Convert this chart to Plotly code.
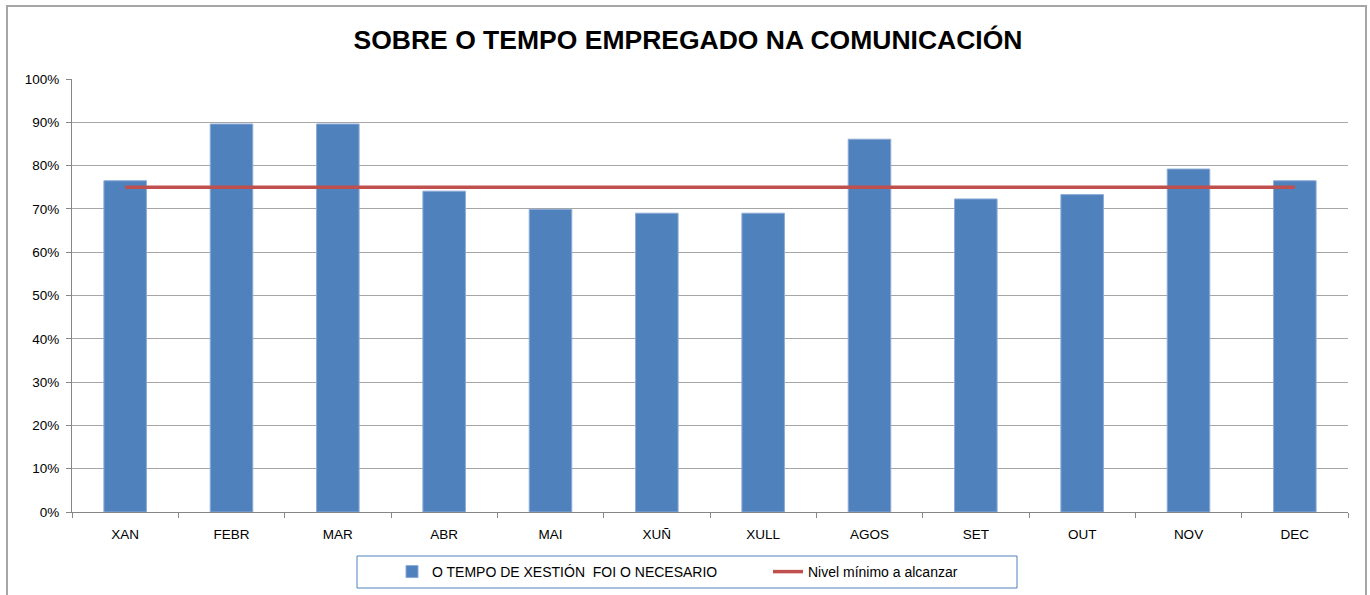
import plotly.graph_objects as go

months = ["XAN", "FEBR", "MAR", "ABR", "MAI", "XUÑ", "XULL", "AGOS", "SET", "OUT", "NOV", "DEC"]
tempo = [0.765, 0.896, 0.896, 0.741, 0.699, 0.690, 0.690, 0.861, 0.723, 0.733, 0.792, 0.765]
nivel = [0.75] * 12
y_ticks = [0, 0.1, 0.2, 0.3, 0.4, 0.5, 0.6, 0.7, 0.8, 0.9, 1.0]

W, H = 1370, 595
L, R, T, B = 72, 22, 79, 83
pw, ph = W - L - R, H - T - B


def px(x):
    return (x - L) / pw


def py(y):
    return (H - B - y) / ph


fig = go.Figure()
fig.add_trace(go.Bar(
    x=months, y=tempo, name="O TEMPO DE XESTIÓN  FOI O NECESARIO",
    marker=dict(color="#4F81BD", line=dict(color="#8DAAD6", width=1)),
    width=0.4,
))
fig.add_trace(go.Scatter(
    x=months, y=nivel, name="Nivel mínimo a alcanzar", mode="lines",
    line=dict(color="#C0504D", width=3.5),
))

fig.update_layout(
    width=W, height=H,
    margin=dict(l=L, r=R, t=T, b=B),
    paper_bgcolor="white", plot_bgcolor="white",
    font=dict(family="Liberation Sans, Arial, sans-serif", size=13, color="#000"),
    title=dict(text="<b>SOBRE O TEMPO EMPREGADO NA COMUNICACIÓN</b>",
               x=px(688), xanchor="center", xref="paper", y=1 - 40 / H, yanchor="middle",
               font=dict(size=26.5, color="#000")),
    showlegend=True,
    legend=dict(orientation="h", xref="container", yref="container",
                x=392 / W, xanchor="left",
                y=(H - 572) / H, yanchor="middle",
                borderwidth=0, bgcolor="rgba(0,0,0,0)",
                font=dict(size=14), entrywidth=331, entrywidthmode="pixels",
                traceorder="normal"),
    xaxis=dict(type="category", showline=True, linecolor="#868686", linewidth=1,
               ticks="outside", tickson="boundaries", ticklen=5, tickcolor="#868686",
               ticklabelstandoff=10,
               showgrid=False, tickfont=dict(size=13.5)),
    yaxis=dict(range=[0, 1], tickvals=y_ticks, tickformat=".0%",
               showline=True, linecolor="#868686", linewidth=1,
               ticks="outside", ticklen=5, tickcolor="#868686",
               ticklabelstandoff=4,
               showgrid=True, gridcolor="#A6A6A6", gridwidth=1,
               zeroline=False, tickfont=dict(size=13.5)),
    shapes=[
        dict(type="rect", xref="paper", yref="paper",
             x0=px(7), x1=px(1366), y0=py(620), y1=py(6),
             line=dict(color="#A6A6A6", width=2), layer="below"),
        dict(type="rect", xref="paper", yref="paper",
             x0=px(357), x1=px(1017), y0=py(588), y1=py(556),
             line=dict(color="#4F81BD", width=1), layer="below"),
    ],
)

fig.write_html("out.html", config={"displayModeBar": False},
               post_script="document.body.style.margin='0';")
